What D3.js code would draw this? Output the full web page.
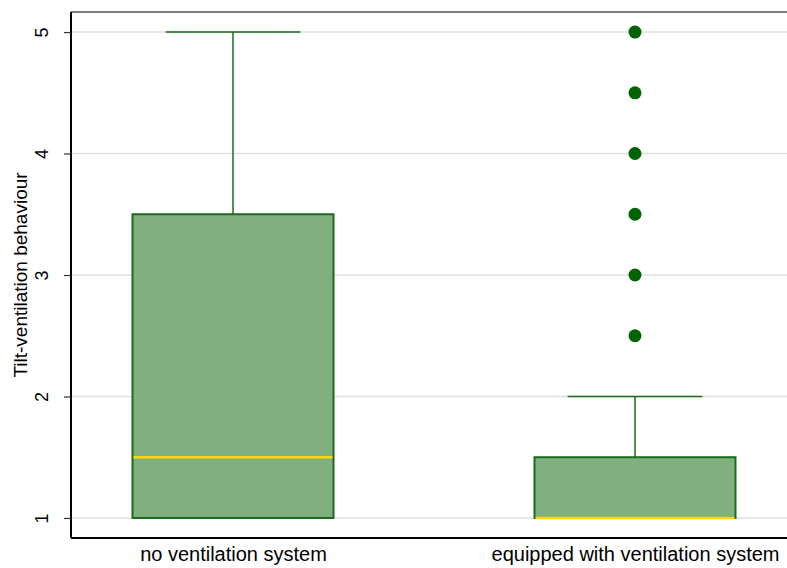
<!DOCTYPE html>
<html>
<head>
<meta charset="utf-8">
<script src="https://cdn.jsdelivr.net/npm/d3@7"></script>
<style>
  html, body { margin: 0; padding: 0; background: #fff; }
  svg { display: block; font-family: "Liberation Sans", Arial, sans-serif; }
</style>
</head>
<body>
<svg id="chart" width="787" height="568"></svg>
<script>
// Groups and their box statistics
const categories = ["no ventilation system", "equipped with ventilation system"];
const lowerWhisker = [1, 1];
const q1 = [1, 1];
const median = [1.5, 1];
const q3 = [3.5, 1.5];
const upperWhisker = [5, 2];
const outliers = [[], [2.5, 3, 3.5, 4, 4.5, 5]];
const yTicks = [1, 2, 3, 4, 5];
const yTitle = "Tilt-ventilation behaviour";

const W = 787, H = 568;
const margin = { left: 71, right: -10, top: 12, bottom: 30 };
const svg = d3.select("#chart");

const x = d3.scalePoint()
  .domain(categories)
  .range([margin.left, W - margin.right])
  .padding(0.403);

const y = d3.scaleLinear()
  .domain([0.835, 5.165])
  .range([H - margin.bottom, margin.top]);

const step = x.step();
const boxW = step * 0.5;
const capW = boxW * 0.67;

const green = "#1b6b1b";
const fill = "#80b080";
const gold = "#ffd700";

// gridlines
svg.append("g")
  .selectAll("line")
  .data(yTicks)
  .join("line")
  .attr("x1", margin.left)
  .attr("x2", W)
  .attr("y1", d => y(d))
  .attr("y2", d => y(d))
  .attr("stroke", "#e0e0e0")
  .attr("stroke-width", 1.5);

// top frame line
svg.append("line")
  .attr("x1", margin.left).attr("x2", W)
  .attr("y1", margin.top).attr("y2", margin.top)
  .attr("stroke", "#555").attr("stroke-width", 1.5);

const data = categories.map((c, i) => ({
  c, lo: lowerWhisker[i], q1: q1[i], med: median[i], q3: q3[i], hi: upperWhisker[i], out: outliers[i]
}));

const g = svg.append("g").selectAll("g").data(data).join("g");

// whisker stems
g.append("line")
  .attr("x1", d => x(d.c)).attr("x2", d => x(d.c))
  .attr("y1", d => y(d.q3)).attr("y2", d => y(d.hi))
  .attr("stroke", green).attr("stroke-width", 1.5);
g.append("line")
  .attr("x1", d => x(d.c)).attr("x2", d => x(d.c))
  .attr("y1", d => y(d.q1)).attr("y2", d => y(d.lo))
  .attr("stroke", green).attr("stroke-width", 1.5);

// whisker caps
g.append("line")
  .attr("x1", d => x(d.c) - capW / 2).attr("x2", d => x(d.c) + capW / 2)
  .attr("y1", d => y(d.hi)).attr("y2", d => y(d.hi))
  .attr("stroke", green).attr("stroke-width", 1.5);

// boxes
g.append("rect")
  .attr("x", d => x(d.c) - boxW / 2)
  .attr("width", boxW)
  .attr("y", d => y(d.q3))
  .attr("height", d => y(d.q1) - y(d.q3))
  .attr("fill", fill)
  .attr("stroke", green)
  .attr("stroke-width", 2);

// medians
g.append("line")
  .attr("x1", d => x(d.c) - boxW / 2 + 1).attr("x2", d => x(d.c) + boxW / 2 - 1)
  .attr("y1", d => y(d.med)).attr("y2", d => y(d.med))
  .attr("stroke", gold).attr("stroke-width", 2.5);

// outliers
g.selectAll("circle")
  .data(d => d.out.map(v => ({ c: d.c, v })))
  .join("circle")
  .attr("cx", d => x(d.c))
  .attr("cy", d => y(d.v))
  .attr("r", 6.5)
  .attr("fill", "#006400");

// y axis
const yAxis = svg.append("g")
  .attr("transform", `translate(${margin.left},0)`)
  .call(d3.axisLeft(y).tickValues(yTicks).tickFormat(d3.format("d")).tickSize(7).tickPadding(0));
yAxis.select(".domain").attr("stroke", "#000").attr("stroke-width", 2)
  .attr("d", `M0,${margin.top}V${H - margin.bottom}`);
yAxis.selectAll(".tick line").attr("stroke", "#333").attr("stroke-width", 1.2);
yAxis.selectAll(".tick text")
  .attr("x", 0).attr("dy", null)
  .attr("transform", "translate(-29,0) rotate(-90)")
  .attr("text-anchor", "middle")
  .attr("dominant-baseline", "central")
  .attr("font-size", 18)
  .attr("fill", "#000");

// x axis
const xAxis = svg.append("g")
  .attr("transform", `translate(0,${H - margin.bottom})`)
  .call(d3.axisBottom(x).tickSize(0).tickPadding(9));
xAxis.select(".domain").attr("stroke", "#000").attr("stroke-width", 2)
  .attr("d", `M${margin.left},0H${W}`);
xAxis.selectAll(".tick text")
  .attr("font-size", 20)
  .attr("fill", "#000");

// y title
svg.append("text")
  .attr("transform", `translate(20,${(margin.top + H - margin.bottom) / 2}) rotate(-90)`)
  .attr("text-anchor", "middle")
  .attr("dominant-baseline", "central")
  .attr("font-size", 19)
  .attr("fill", "#000")
  .text(yTitle);
</script>
</body>
</html>
